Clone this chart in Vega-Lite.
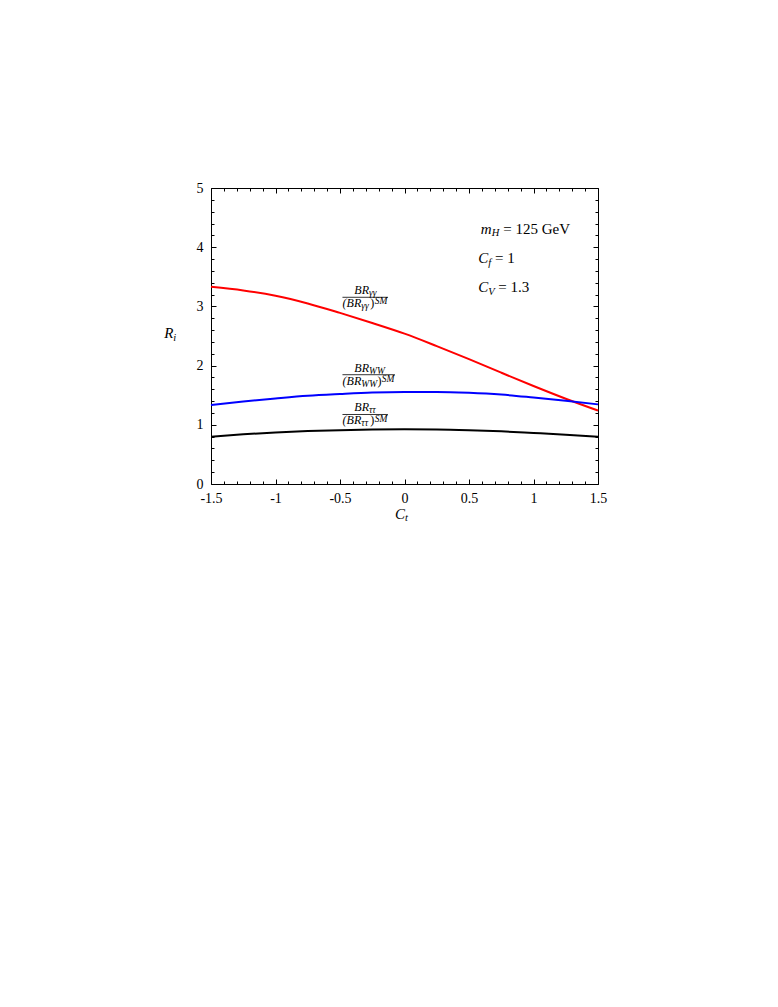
{
  "$schema": "https://vega.github.io/schema/vega-lite/v6.json",
  "width": 387,
  "height": 296,
  "autosize": "none",
  "padding": {"left": 211, "top": 188, "right": 180, "bottom": 523},
  "background": "white",
  "config": {"view": {"stroke": null}, "font": "Liberation Serif", "text": {"color": "black", "font": "Liberation Serif"}},
  "datasets": {
    "curves": [
      {"ct": -1.5, "r": 3.33, "series": "gg"}, {"ct": -1.25, "r": 3.27, "series": "gg"}, {"ct": -1.0, "r": 3.18, "series": "gg"},
      {"ct": -0.75, "r": 3.05, "series": "gg"}, {"ct": -0.5, "r": 2.89, "series": "gg"}, {"ct": -0.25, "r": 2.72, "series": "gg"},
      {"ct": 0.0, "r": 2.54, "series": "gg"}, {"ct": 0.25, "r": 2.33, "series": "gg"}, {"ct": 0.5, "r": 2.11, "series": "gg"},
      {"ct": 0.75, "r": 1.88, "series": "gg"}, {"ct": 1.0, "r": 1.655, "series": "gg"}, {"ct": 1.25, "r": 1.44, "series": "gg"},
      {"ct": 1.5, "r": 1.24, "series": "gg"},
      {"ct": -1.5, "r": 1.335, "series": "ww"}, {"ct": -1.25, "r": 1.395, "series": "ww"}, {"ct": -1.0, "r": 1.445, "series": "ww"},
      {"ct": -0.75, "r": 1.49, "series": "ww"}, {"ct": -0.5, "r": 1.52, "series": "ww"}, {"ct": -0.25, "r": 1.545, "series": "ww"},
      {"ct": 0.0, "r": 1.555, "series": "ww"}, {"ct": 0.25, "r": 1.555, "series": "ww"}, {"ct": 0.5, "r": 1.54, "series": "ww"},
      {"ct": 0.75, "r": 1.51, "series": "ww"}, {"ct": 1.0, "r": 1.46, "series": "ww"}, {"ct": 1.25, "r": 1.405, "series": "ww"},
      {"ct": 1.5, "r": 1.345, "series": "ww"},
      {"ct": -1.5, "r": 0.80, "series": "tt"}, {"ct": -1.25, "r": 0.84, "series": "tt"}, {"ct": -1.0, "r": 0.872, "series": "tt"},
      {"ct": -0.75, "r": 0.895, "series": "tt"}, {"ct": -0.5, "r": 0.91, "series": "tt"}, {"ct": -0.25, "r": 0.92, "series": "tt"},
      {"ct": 0.0, "r": 0.924, "series": "tt"}, {"ct": 0.25, "r": 0.922, "series": "tt"}, {"ct": 0.5, "r": 0.91, "series": "tt"},
      {"ct": 0.75, "r": 0.89, "series": "tt"}, {"ct": 1.0, "r": 0.862, "series": "tt"}, {"ct": 1.25, "r": 0.833, "series": "tt"},
      {"ct": 1.5, "r": 0.80, "series": "tt"}
    ],
    "fracs": [
      {"id": "gg", "ct": -0.477, "r": 3.154, "fsub": "γγ"},
      {"id": "ww", "ct": -0.477, "r": 1.846, "fsub": "WW"},
      {"id": "tt", "ct": -0.477, "r": 1.174, "fsub": "ττ"}
    ],
    "notes": [
      {"id": "mH", "ct": 0.676, "r": 4.223, "main": "m", "sub": "H", "rest": "= 125 GeV"},
      {"id": "Cf", "ct": 0.65, "r": 3.728, "main": "C", "sub": "f", "rest": "= 1"},
      {"id": "CV", "ct": 0.65, "r": 3.238, "main": "C", "sub": "V", "rest": "= 1.3"},
      {"id": "Ri", "ct": -1.792, "r": 2.461, "main": "R", "sub": "i", "rest": ""},
      {"id": "Ct", "ct": 0.004, "r": -0.591, "main": "C", "sub": "t", "rest": ""}
    ]
  },
  "encoding": {
    "x": {"field": "ct", "type": "quantitative", "scale": {"domain": [-1.5, 1.5], "nice": false, "zero": false}, "axis": null},
    "y": {"field": "r", "type": "quantitative", "scale": {"domain": [0, 5], "nice": false, "zero": false}, "axis": null}
  },
  "layer": [
    {
      "data": {"name": "curves"},
      "mark": {"type": "line", "strokeWidth": 2, "interpolate": "monotone"},
      "encoding": {
        "x": {"field": "ct", "type": "quantitative", "scale": {"domain": [-1.5, 1.5], "nice": false, "zero": false},
          "axis": {"orient": "bottom", "title": null, "grid": false,
            "values": [-1.5,-1.4,-1.3,-1.2,-1.1,-1,-0.9,-0.8,-0.7,-0.6,-0.5,-0.4,-0.3,-0.2,-0.1,0,0.1,0.2,0.3,0.4,0.5,0.6,0.7,0.8,0.9,1,1.1,1.2,1.3,1.4,1.5],
            "domainColor": "black", "domainWidth": 1, "tickColor": "black", "tickWidth": 1,
            "tickSize": {"condition": {"test": "abs(datum.value*2 - round(datum.value*2)) < 0.001", "value": -5}, "value": -3},
            "labelExpr": "abs(datum.value*2 - round(datum.value*2)) < 0.001 ? '' + round(datum.value*2)/2 : ''",
            "labelPadding": 12.5, "labelFont": "Liberation Serif", "labelFontSize": 14, "labelColor": "black",
            "labelBaseline": "top", "labelFlush": false, "labelOverlap": false, "labelBound": false}},
        "y": {"field": "r", "type": "quantitative", "scale": {"domain": [0, 5], "nice": false, "zero": false},
          "axis": {"orient": "left", "title": null, "grid": false,
            "values": [0,0.2,0.4,0.6,0.8,1,1.2,1.4,1.6,1.8,2,2.2,2.4,2.6,2.8,3,3.2,3.4,3.6,3.8,4,4.2,4.4,4.6,4.8,5],
            "domainColor": "black", "domainWidth": 1, "tickColor": "black", "tickWidth": 1,
            "tickSize": {"condition": {"test": "abs(datum.value - round(datum.value)) < 0.001", "value": -5}, "value": -3},
            "labelExpr": "abs(datum.value - round(datum.value)) < 0.001 ? '' + round(datum.value) : ''",
            "labelPadding": 13, "labelFont": "Liberation Serif", "labelFontSize": 14, "labelColor": "black",
            "labelBaseline": "middle", "labelAlign": "right", "labelFlush": false, "labelOverlap": false, "labelBound": false}},
        "color": {"field": "series", "type": "nominal", "scale": {"domain": ["gg", "ww", "tt"], "range": ["#ff0000", "#0000ff", "#000000"]}, "legend": null}
      }
    },
    {
      "data": {"name": "curves"},
      "mark": {"type": "point", "opacity": 0},
      "encoding": {
        "x": {"field": "ct", "type": "quantitative", "scale": {"domain": [-1.5, 1.5], "nice": false, "zero": false},
          "axis": {"orient": "top", "title": null, "grid": false, "labels": false,
            "values": [-1.5,-1.4,-1.3,-1.2,-1.1,-1,-0.9,-0.8,-0.7,-0.6,-0.5,-0.4,-0.3,-0.2,-0.1,0,0.1,0.2,0.3,0.4,0.5,0.6,0.7,0.8,0.9,1,1.1,1.2,1.3,1.4,1.5],
            "domainColor": "black", "domainWidth": 1, "tickColor": "black", "tickWidth": 1,
            "tickSize": {"condition": {"test": "abs(datum.value*2 - round(datum.value*2)) < 0.001", "value": -5}, "value": -3}}},
        "y": {"field": "r", "type": "quantitative", "scale": {"domain": [0, 5], "nice": false, "zero": false},
          "axis": {"orient": "right", "title": null, "grid": false, "labels": false,
            "values": [0,0.2,0.4,0.6,0.8,1,1.2,1.4,1.6,1.8,2,2.2,2.4,2.6,2.8,3,3.2,3.4,3.6,3.8,4,4.2,4.4,4.6,4.8,5],
            "domainColor": "black", "domainWidth": 1, "tickColor": "black", "tickWidth": 1,
            "tickSize": {"condition": {"test": "abs(datum.value - round(datum.value)) < 0.001", "value": -5}, "value": -3}}}
      }
    },
    {
      "data": {"name": "fracs"},
      "mark": {"type": "text", "text": "BR", "align": "right", "baseline": "alphabetic", "dx": 26, "dy": -3, "fontStyle": "italic", "fontSize": 12}
    },
    {
      "data": {"name": "fracs"},
      "mark": {"type": "text", "align": "left", "baseline": "alphabetic", "dx": 26, "dy": -1.2, "fontStyle": "italic", "fontSize": 9.5},
      "encoding": {"text": {"field": "fsub"}}
    },
    {
      "data": {"name": "fracs"},
      "mark": {"type": "text", "text": "(BR", "align": "right", "baseline": "alphabetic", "dx": 18.3, "dy": 10, "fontStyle": "italic", "fontSize": 12}
    },
    {
      "data": {"name": "fracs"},
      "mark": {"type": "text", "align": "left", "baseline": "alphabetic", "dx": 18.3, "dy": 11.8, "fontStyle": "italic", "fontSize": 9.5},
      "encoding": {"text": {"field": "fsub"}}
    },
    {
      "data": {"name": "fracs"},
      "transform": [{"filter": "datum.id != 'ww'"}],
      "mark": {"type": "text", "text": ")", "align": "left", "baseline": "alphabetic", "dx": 27.4, "dy": 10, "fontSize": 12}
    },
    {
      "data": {"name": "fracs"},
      "transform": [{"filter": "datum.id == 'ww'"}],
      "mark": {"type": "text", "text": ")", "align": "left", "baseline": "alphabetic", "dx": 34.6, "dy": 10, "fontSize": 12}
    },
    {
      "data": {"name": "fracs"},
      "transform": [{"filter": "datum.id != 'ww'"}],
      "mark": {"type": "text", "text": "SM", "align": "left", "baseline": "alphabetic", "dx": 31.7, "dy": 7.2, "fontStyle": "italic", "fontSize": 9.5}
    },
    {
      "data": {"name": "fracs"},
      "transform": [{"filter": "datum.id == 'ww'"}],
      "mark": {"type": "text", "text": "SM", "align": "left", "baseline": "alphabetic", "dx": 38.9, "dy": 7.2, "fontStyle": "italic", "fontSize": 9.5}
    },
    {
      "data": {"name": "fracs"},
      "transform": [{"filter": "datum.id != 'ww'"}],
      "mark": {"type": "rule", "xOffset": -0.5, "x2Offset": 45, "strokeWidth": 0.8, "color": "black"},
      "encoding": {"x2": {"field": "ct"}}
    },
    {
      "data": {"name": "fracs"},
      "transform": [{"filter": "datum.id == 'ww'"}],
      "mark": {"type": "rule", "xOffset": -0.5, "x2Offset": 52, "strokeWidth": 0.8, "color": "black"},
      "encoding": {"x2": {"field": "ct"}}
    },
    {
      "data": {"name": "notes"},
      "mark": {"type": "text", "align": "right", "baseline": "alphabetic", "fontStyle": "italic", "fontSize": 15},
      "encoding": {"text": {"field": "main"}}
    },
    {
      "data": {"name": "notes"},
      "mark": {"type": "text", "align": "left", "baseline": "alphabetic", "dy": 2.5, "fontStyle": "italic", "fontSize": 10.5},
      "encoding": {"text": {"field": "sub"}}
    },
    {
      "data": {"name": "notes"},
      "transform": [{"filter": "datum.id == 'mH'"}],
      "mark": {"type": "text", "align": "left", "baseline": "alphabetic", "dx": 11.6, "fontSize": 15},
      "encoding": {"text": {"field": "rest"}}
    },
    {
      "data": {"name": "notes"},
      "transform": [{"filter": "datum.id == 'Cf'"}],
      "mark": {"type": "text", "align": "left", "baseline": "alphabetic", "dx": 6.7, "fontSize": 15},
      "encoding": {"text": {"field": "rest"}}
    },
    {
      "data": {"name": "notes"},
      "transform": [{"filter": "datum.id == 'CV'"}],
      "mark": {"type": "text", "align": "left", "baseline": "alphabetic", "dx": 10, "fontSize": 15},
      "encoding": {"text": {"field": "rest"}}
    }
  ]
}
